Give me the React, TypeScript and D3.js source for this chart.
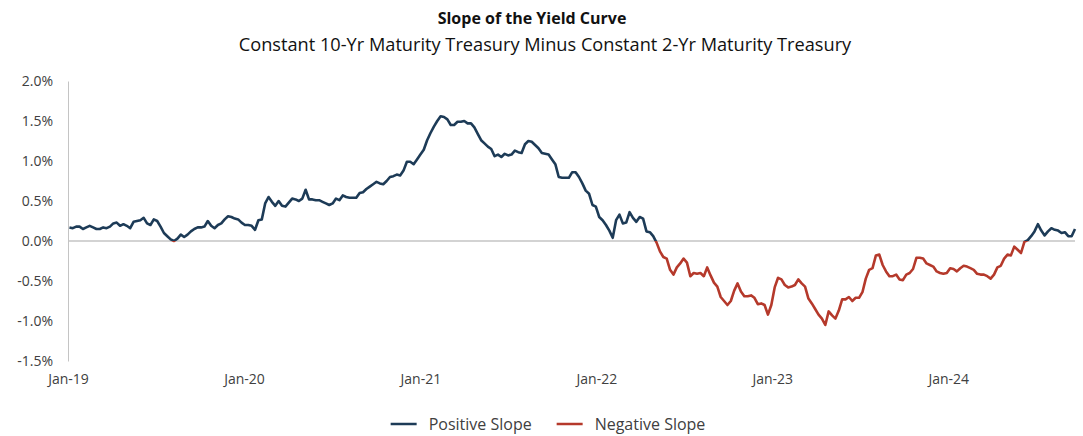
import React, { useEffect, useRef } from "react";
import * as d3 from "d3";

// weekly 10y-2y spread, in %, first obs 2019-01-04
const startDate = "2019-01-04";

const spread2019 = [
  0.17, 0.16, 0.18, 0.18, 0.15, 0.17, 0.19, 0.17, 0.15, 0.15,
  0.17, 0.16, 0.18, 0.22, 0.23, 0.19, 0.21, 0.19, 0.16, 0.24,
  0.25, 0.26, 0.29, 0.22, 0.20, 0.27, 0.25, 0.18, 0.10, 0.06,
  0.02, 0.00, 0.03, 0.08, 0.05, 0.08, 0.12, 0.15, 0.17, 0.17,
  0.18, 0.25, 0.19, 0.16, 0.20, 0.22, 0.27, 0.31, 0.30, 0.28,
  0.27, 0.23,
];
const spread2020 = [
  0.20, 0.20, 0.19, 0.14, 0.26, 0.27, 0.47, 0.55, 0.49, 0.44,
  0.50, 0.44, 0.43, 0.48, 0.53, 0.52, 0.50, 0.53, 0.64, 0.52,
  0.52, 0.51, 0.51, 0.49, 0.47, 0.45, 0.47, 0.53, 0.51, 0.57,
  0.55, 0.54, 0.54, 0.54, 0.60, 0.61, 0.65, 0.68, 0.71, 0.74,
  0.72, 0.71, 0.75, 0.80, 0.81, 0.83, 0.82, 0.88, 0.99, 0.99,
  0.96, 1.02,
];
const spread2021 = [
  1.08, 1.14, 1.26, 1.35, 1.43, 1.50, 1.56, 1.55, 1.52, 1.45,
  1.45, 1.49, 1.49, 1.50, 1.47, 1.47, 1.42, 1.34, 1.26, 1.22,
  1.18, 1.15, 1.06, 1.08, 1.05, 1.09, 1.07, 1.08, 1.13, 1.11,
  1.10, 1.21, 1.25, 1.24, 1.20, 1.16, 1.10, 1.09, 1.08, 1.02,
  0.96, 0.80, 0.79, 0.79, 0.79, 0.86, 0.86, 0.80, 0.72, 0.63,
  0.59, 0.45,
];
const spread2022 = [
  0.43, 0.30, 0.26, 0.20, 0.13, 0.04, 0.26, 0.33, 0.22, 0.23,
  0.36, 0.29, 0.24, 0.30, 0.28, 0.12, 0.11, 0.06, -0.02, -0.13,
  -0.20, -0.22, -0.36, -0.42, -0.33, -0.28, -0.22, -0.27, -0.44, -0.40,
  -0.41, -0.40, -0.44, -0.33, -0.43, -0.52, -0.57, -0.70, -0.75, -0.80,
  -0.75, -0.62, -0.53, -0.63, -0.69, -0.69, -0.68, -0.71, -0.79, -0.78,
  -0.80, -0.92,
];
const spread2023 = [
  -0.80, -0.58, -0.46, -0.48, -0.55, -0.58, -0.57, -0.55, -0.48, -0.53,
  -0.57, -0.72, -0.78, -0.85, -0.92, -0.97, -1.05, -0.88, -0.93, -0.97,
  -0.87, -0.73, -0.73, -0.70, -0.75, -0.71, -0.71, -0.64, -0.47, -0.36,
  -0.34, -0.18, -0.17, -0.30, -0.38, -0.44, -0.44, -0.42, -0.48, -0.49,
  -0.42, -0.40, -0.35, -0.21, -0.21, -0.22, -0.28, -0.30, -0.32, -0.38,
  -0.40, -0.41,
];
const spread2024 = [
  -0.40, -0.34, -0.35, -0.38, -0.34, -0.31, -0.32, -0.34, -0.36, -0.41,
  -0.42, -0.42, -0.44, -0.47, -0.42, -0.33, -0.31, -0.22, -0.17, -0.18,
  -0.07, -0.11, -0.15, -0.01, 0.01, 0.06, 0.12, 0.21, 0.13, 0.07,
  0.12, 0.16, 0.14, 0.13, 0.10, 0.11, 0.06, 0.06, 0.15,
];

const tickDates = ["2019-01-01", "2020-01-01", "2021-01-01", "2022-01-01", "2023-01-01", "2024-01-01"];
const yTicks = [-1.5, -1.0, -0.5, 0.0, 0.5, 1.0, 1.5, 2.0];
const legendLabels = ["Positive Slope", "Negative Slope"];
const posColor = "#1d3b57";
const negColor = "#b5392b";

const font = "'Open Sans', 'Noto Sans', sans-serif";

export default function App() {
  const svgRef = useRef<SVGSVGElement>(null);

  useEffect(() => {
    const w = 1083;
    const h = 436;
    const svg = d3.select(svgRef.current);
    svg.selectAll("*").remove();

    const parse = d3.utcParse("%Y-%m-%d");
    const start = parse(startDate) as Date;
    const values = [...spread2019, ...spread2020, ...spread2021, ...spread2022, ...spread2023, ...spread2024];
    const data = values.map((v, i) => ({ date: d3.utcDay.offset(start, 7 * i), value: v }));

    const x = d3.scaleUtc()
      .domain([parse(tickDates[0]) as Date, data[data.length - 1].date])
      .range([68, 1075]);
    const y = d3.scaleLinear().domain([-1.5, 2.0]).range([361, 81]);

    // titles
    svg.append("text")
      .attr("x", 532).attr("y", 24)
      .attr("text-anchor", "middle")
      .style("font-family", font).style("font-weight", 700).style("font-size", "16px")
      .attr("fill", "#111")
      .text("Slope of the Yield Curve");
    svg.append("text")
      .attr("x", 545).attr("y", 51)
      .attr("text-anchor", "middle")
      .style("font-family", font).style("font-size", "18.2px")
      .attr("fill", "#111")
      .text("Constant 10-Yr Maturity Treasury Minus Constant 2-Yr Maturity Treasury");

    // y axis
    const yAxis = d3.axisLeft(y)
      .tickValues(yTicks)
      .tickSize(0)
      .tickPadding(15)
      .tickFormat((d) => `${(+d).toFixed(1)}%`);
    const gy = svg.append("g").attr("transform", "translate(68,0)").call(yAxis);
    gy.select(".domain").attr("stroke", "#c4c4c4").attr("stroke-width", 1);
    gy.selectAll("text").style("font-family", font).style("font-size", "14px").attr("fill", "#404040");

    // x axis labels only
    const xAxis = d3.axisBottom(x)
      .tickValues(tickDates.map((d) => parse(d) as Date))
      .tickSize(0)
      .tickPadding(14)
      .tickFormat((d) => d3.utcFormat("%b-%y")(d as Date));
    const gx = svg.append("g").attr("transform", "translate(0,360)").call(xAxis);
    gx.select(".domain").remove();
    gx.selectAll("text").style("font-family", font).style("font-size", "14px").attr("fill", "#404040");

    // zero line
    svg.append("line")
      .attr("x1", x.range()[0]).attr("x2", x.range()[1])
      .attr("y1", y(0)).attr("y2", y(0))
      .attr("stroke", "#c4c4c4").attr("stroke-width", 1.5);

    // clip above / below zero
    const defs = svg.append("defs");
    defs.append("clipPath").attr("id", "clip-pos")
      .append("rect").attr("x", 0).attr("y", 0).attr("width", w).attr("height", y(0));
    defs.append("clipPath").attr("id", "clip-neg")
      .append("rect").attr("x", 0).attr("y", y(0)).attr("width", w).attr("height", h - y(0));

    const line = d3.line<{ date: Date; value: number }>()
      .x((d) => x(d.date))
      .y((d) => y(d.value));

    svg.append("path")
      .datum(data)
      .attr("clip-path", "url(#clip-pos)")
      .attr("d", line)
      .attr("fill", "none")
      .attr("stroke", posColor)
      .attr("stroke-width", 2.6)
      .attr("stroke-linejoin", "round");
    svg.append("path")
      .datum(data)
      .attr("clip-path", "url(#clip-neg)")
      .attr("d", line)
      .attr("fill", "none")
      .attr("stroke", negColor)
      .attr("stroke-width", 2.6)
      .attr("stroke-linejoin", "round");

    // legend
    const legend = svg.append("g");
    const colors = [posColor, negColor];
    let cursor = 0;
    legendLabels.forEach((label, i) => {
      const item = legend.append("g").attr("transform", `translate(${cursor},0)`);
      item.append("line")
        .attr("x1", 0).attr("x2", 26).attr("y1", 0).attr("y2", 0)
        .attr("stroke", colors[i]).attr("stroke-width", 2.5);
      const t = item.append("text")
        .attr("x", 38).attr("y", 5.5)
        .style("font-family", font).style("font-size", "16px")
        .attr("fill", "#404040")
        .text(label);
      const len = (t.node() as SVGTextElement).getComputedTextLength();
      cursor += 38 + len + 25;
    });
    const total = cursor - 25;
    legend.attr("transform", `translate(${548 - total / 2},424)`);
  }, []);

  return (
    <svg
      ref={svgRef}
      width={1083}
      height={436}
      style={{ position: "absolute", left: 0, top: 0, background: "#fff" }}
    />
  );
}
